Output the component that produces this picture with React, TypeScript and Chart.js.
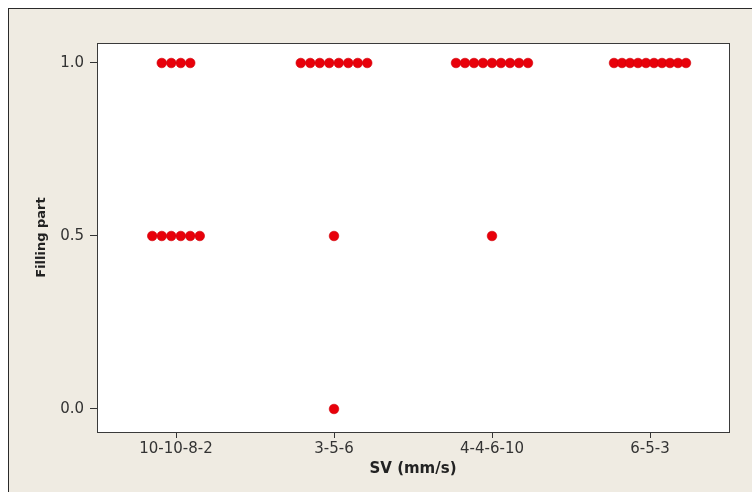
import React, { useEffect, useRef } from "react";
import { Chart, registerables } from "chart.js";

Chart.register(...registerables);

// Categories along the x axis (sequence settings)
const categories = ["10-10-8-2", "3-5-6", "4-4-6-10", "6-5-3"];

// Observed "Filling part" values for each category
const fill_10_10_8_2 = [1, 1, 1, 1, 0.5, 0.5, 0.5, 0.5, 0.5, 0.5];
const fill_3_5_6 = [1, 1, 1, 1, 1, 1, 1, 1, 0.5, 0];
const fill_4_4_6_10 = [1, 1, 1, 1, 1, 1, 1, 1, 1, 0.5];
const fill_6_5_3 = [1, 1, 1, 1, 1, 1, 1, 1, 1, 1];

const groups = [fill_10_10_8_2, fill_3_5_6, fill_4_4_6_10, fill_6_5_3];

// Y axis tick labels
const yTicks = [0, 0.5, 1.0];

const X_TITLE = "SV (mm/s)";
const Y_TITLE = "Filling part";

// Horizontal stacking of identical values (individual value plot style)
const PX_PER_CATEGORY = 158;
const DOT_STEP_PX = 9.5;
const MAX_ROW_PX = 72;

function buildPoints() {
  const pts: { x: number; y: number }[] = [];
  groups.forEach((vals, gi) => {
    const counts = new Map<number, number>();
    vals.forEach((v) => counts.set(v, (counts.get(v) || 0) + 1));
    counts.forEach((n, v) => {
      const step = n > 1 ? Math.min(DOT_STEP_PX, MAX_ROW_PX / (n - 1)) : 0;
      for (let k = 0; k < n; k++) {
        const offsetPx = (k - (n - 1) / 2) * step;
        pts.push({ x: gi + 1 + offsetPx / PX_PER_CATEGORY, y: v });
      }
    });
  });
  return pts;
}

const plotFrame = {
  id: "plotFrame",
  beforeDatasetsDraw(chart: any) {
    const { ctx, chartArea } = chart;
    const { left, top, right, bottom } = chartArea;
    ctx.save();
    ctx.fillStyle = "#ffffff";
    ctx.fillRect(left, top, right - left, bottom - top);
    ctx.strokeStyle = "#3a3a3a";
    ctx.lineWidth = 1;
    ctx.strokeRect(Math.round(left) + 0.5, Math.round(top) + 0.5, Math.round(right - left), Math.round(bottom - top));
    ctx.restore();
  },
};

export default function App() {
  const canvasRef = useRef<HTMLCanvasElement | null>(null);

  useEffect(() => {
    if (!canvasRef.current) return;
    const tickFont = { family: "'DejaVu Sans', sans-serif", size: 15 };
    const chart = new Chart(canvasRef.current, {
      type: "scatter",
      data: {
        datasets: [
          {
            data: buildPoints(),
            pointRadius: 4.8,
            pointHoverRadius: 4.8,
            pointBackgroundColor: "#e8000a",
            pointBorderColor: "#d00008",
            pointBorderWidth: 0.6,
          },
        ],
      },
      options: {
        animation: false,
        responsive: false,
        maintainAspectRatio: false,
        layout: { padding: { top: 34, right: 23, left: 0, bottom: 0 } },
        plugins: { legend: { display: false }, tooltip: { enabled: false } },
        scales: {
          x: {
            type: "linear",
            min: 0.5,
            max: 4.5,
            afterBuildTicks: (scale: any) => {
              scale.ticks = categories.map((_, i) => ({ value: i + 1 }));
            },
            afterFit: (scale: any) => {
              scale.height = 60;
            },
            border: { display: false },
            grid: {
              drawOnChartArea: false,
              drawTicks: true,
              tickLength: 6,
              color: "#333333",
            },
            ticks: {
              font: tickFont,
              color: "#333333",
              padding: 2,
              maxRotation: 0,
              autoSkip: false,
              callback: (v: any) => categories[Math.round(Number(v)) - 1] ?? "",
            },
            title: {
              display: true,
              text: X_TITLE,
              font: { family: "'DejaVu Sans', sans-serif", size: 15, weight: "bold" },
              color: "#222222",
              padding: { top: 0, bottom: 14 },
            },
          },
          y: {
            type: "linear",
            min: -0.0665,
            max: 1.0578,
            afterBuildTicks: (scale: any) => {
              scale.ticks = yTicks.map((v) => ({ value: v }));
            },
            afterFit: (scale: any) => {
              scale.width = 88;
            },
            border: { display: false },
            grid: {
              drawOnChartArea: false,
              drawTicks: true,
              tickLength: 7,
              color: "#333333",
            },
            ticks: {
              font: tickFont,
              color: "#333333",
              padding: 6,
              callback: (v: any) => Number(v).toFixed(1),
            },
            title: {
              display: true,
              text: Y_TITLE,
              font: { family: "'DejaVu Sans', sans-serif", size: 13, weight: "bold" },
              color: "#222222",
              padding: { top: 25, bottom: 0 },
            },
          },
        },
      },
      plugins: [plotFrame],
    });
    return () => chart.destroy();
  }, []);

  return (
    <div
      style={{
        position: "fixed",
        left: 8,
        top: 8,
        width: 744,
        height: 484,
        boxSizing: "border-box",
        background: "#efebe2",
        borderTop: "1px solid #2a2a2a",
        borderLeft: "1px solid #2a2a2a",
      }}
    >
      <canvas ref={canvasRef} width={743} height={483} style={{ display: "block" }} />
    </div>
  );
}
